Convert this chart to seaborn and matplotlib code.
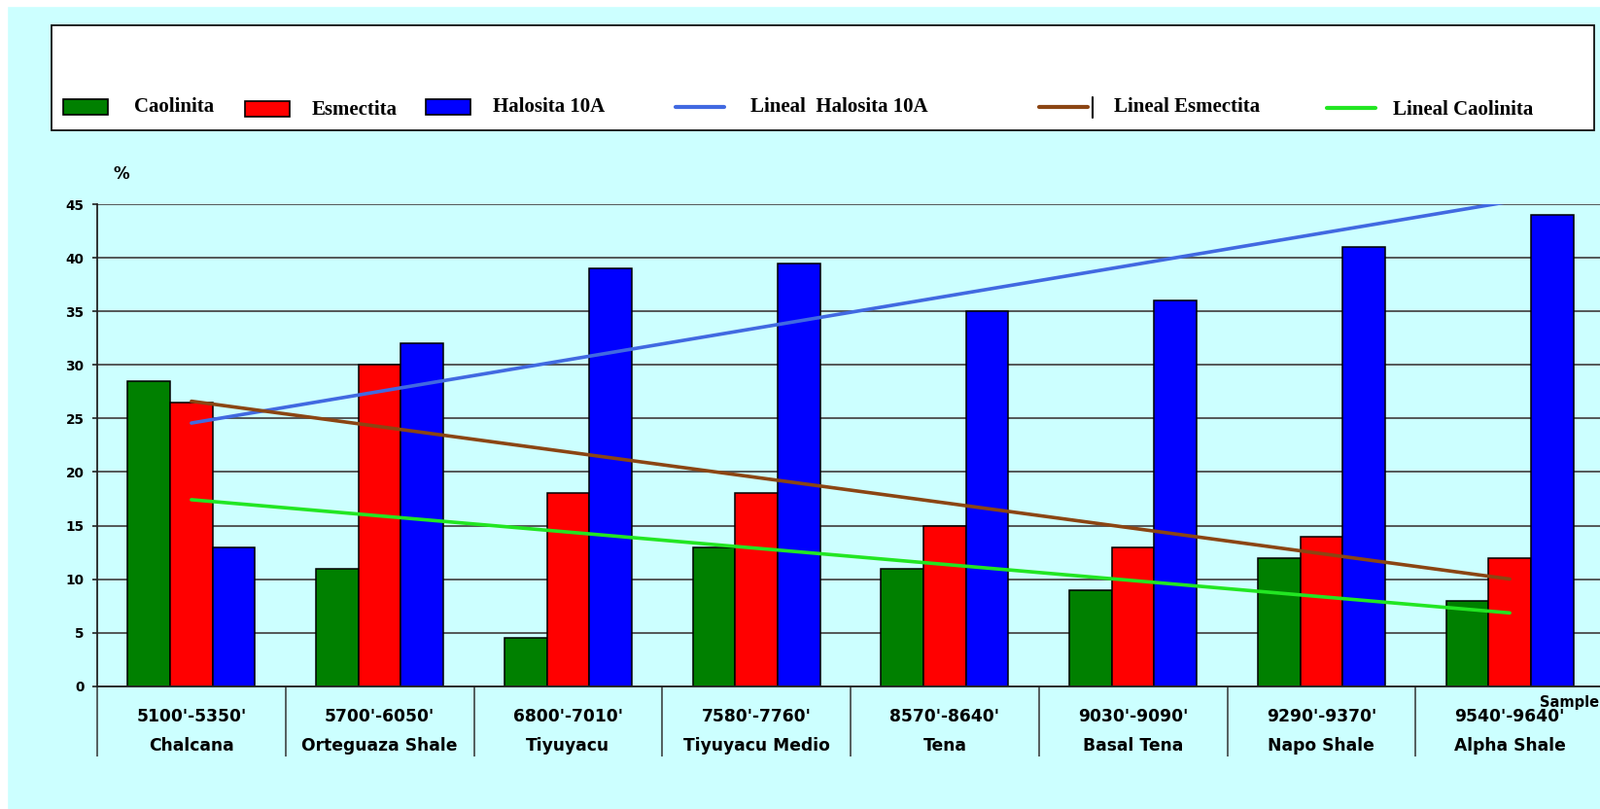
import numpy as np
import pandas as pd
import matplotlib
matplotlib.use("Agg")
import matplotlib.pyplot as plt
from matplotlib.patches import Rectangle
from matplotlib.lines import Line2D
import seaborn as sns

# data
depths = ["5100'-5350'", "5700'-6050'", "6800'-7010'", "7580'-7760'",
          "8570'-8640'", "9030'-9090'", "9290'-9370'", "9540'-9640'"]
formations = ["Chalcana", "Orteguaza Shale", "Tiyuyacu", "Tiyuyacu Medio",
              "Tena", "Basal Tena", "Napo Shale", "Alpha Shale"]
caolinita = [28.5, 11, 4.5, 13, 11, 9, 12, 8]
esmectita = [26.5, 30, 18, 18, 15, 13, 14, 12]
halosita = [13, 32, 39, 39.5, 35, 36, 41, 44]
minerals = ["Caolinita", "Esmectita", "Halosita 10A"]
y_ticks = list(range(0, 50, 5))

bar_colors = {"Caolinita": "#008000", "Esmectita": "#ff0000", "Halosita 10A": "#0000ff"}
trend_colors = {"Caolinita": "#22e622", "Esmectita": "#8b4513", "Halosita 10A": "#4169e1"}
bg = "#ccffff"

W, H = 1646, 832

def fx(x):
    return x / W

def fy(y):
    return 1 - y / H

sns.set_style("white")
plt.rcParams["font.family"] = ["DejaVu Sans"]
plt.rcParams["text.color"] = "black"
plt.rcParams["xtick.labelcolor"] = "black"
plt.rcParams["ytick.labelcolor"] = "black"

fig = plt.figure(figsize=(W / 100, H / 100), dpi=100)
fig.patch.set_facecolor(bg)
# thin white border at top/left like the scanned original
fig.add_artist(Rectangle((0, 0), fx(7), 1, transform=fig.transFigure, color="white", zorder=0))
fig.add_artist(Rectangle((0, fy(6)), 1, 6 / H, transform=fig.transFigure, color="white", zorder=0))

ax = fig.add_axes([fx(100), fy(705.5), fx(1550), 495 / H])
ax.set_facecolor(bg)

cats = [f"{d}\n{f}" for d, f in zip(depths, formations)]
df = pd.concat([
    pd.DataFrame({"cat": cats, "mineral": m, "pct": v})
    for m, v in zip(minerals, [caolinita, esmectita, halosita])
])

sns.barplot(data=df, x="cat", y="pct", hue="mineral", order=cats, hue_order=minerals,
            palette=bar_colors, saturation=1, width=0.675, edgecolor="black",
            linewidth=1.1, legend=False, ax=ax)

# linear trend lines
xpos = np.arange(len(cats))
for m, v in zip(["Halosita 10A", "Esmectita", "Caolinita"], [halosita, esmectita, caolinita]):
    sns.regplot(x=xpos, y=v, scatter=False, ci=None, truncate=True,
                color=trend_colors[m], line_kws={"lw": 2.6}, ax=ax)

ax.set_xlim(-0.5, 7.5)
ax.set_ylim(0, 45)
ax.set_yticks(y_ticks)
ax.set_xlabel("")
ax.set_ylabel("")
ax.grid(axis="y", color="#4a4a4a", lw=1.3)
ax.set_axisbelow(True)
for s in ["top", "right"]:
    ax.spines[s].set_visible(False)
for s in ["left", "bottom"]:
    ax.spines[s].set_color("#222222")
    ax.spines[s].set_linewidth(1.3)

ax.tick_params(axis="y", left=True, length=3.3, width=1.2, pad=6.5, labelsize=9.8, color="#222222")
for lbl in ax.get_yticklabels():
    lbl.set_fontweight("bold")

ax.set_xticks(xpos)
ax.set_xticklabels(cats)
ax.tick_params(axis="x", which="major", length=0, pad=16, labelsize=12.3)
for lbl in ax.get_xticklabels():
    lbl.set_fontweight("bold")
    lbl.set_linespacing(1.9)
# column separators under the axis
ax.set_xticks(np.arange(-0.5, len(cats), 1), minor=True)
ax.tick_params(axis="x", which="minor", bottom=True, length=52, width=1.1,
               color="#333333", direction="out")

fig.text(fx(125), fy(179), "%", fontsize=12, fontweight="bold", ha="center", va="center")
fig.text(fx(1645), fy(722), "Sample", fontsize=10.5, fontweight="bold", ha="right", va="center")

# legend box
fig.add_artist(Rectangle((fx(53), fy(134)), fx(1640 - 53), (134 - 26) / H,
                         transform=fig.transFigure, facecolor="white",
                         edgecolor="#111111", lw=1.3, zorder=1))
serif = dict(family=["Liberation Serif", "DejaVu Serif"], fontsize=15, fontweight="bold",
             va="center", ha="left", zorder=3)
patch_items = [("Caolinita", 65, 110, 138, 110),
               ("Esmectita", 252, 112, 321, 113),
               ("Halosita 10A", 438, 110, 507, 110)]
for name, px0, py, tx, ty in patch_items:
    fig.add_artist(Rectangle((fx(px0), fy(py + 8)), fx(46), 16 / H, transform=fig.transFigure,
                             facecolor=bar_colors[name], edgecolor="black", lw=1.2, zorder=2))
    fig.text(fx(tx), fy(ty), name, **serif)

line_items = [("Halosita 10A", "Lineal  Halosita 10A", 695, 110, 772, 110),
              ("Esmectita", "Lineal Esmectita", 1069, 110, 1146, 110),
              ("Caolinita", "Lineal Caolinita", 1365, 111, 1433, 113)]
for key, label, lx, ly, tx, ty in line_items:
    fig.add_artist(Line2D([fx(lx), fx(lx + 50)], [fy(ly), fy(ly)], transform=fig.transFigure,
                          color=trend_colors[key], lw=3, zorder=2))
    fig.text(fx(tx), fy(ty), label, **serif)
fig.add_artist(Line2D([fx(1124), fx(1124)], [fy(100), fy(121)], transform=fig.transFigure,
                      color="black", lw=1.5, zorder=2))

fig.savefig("out.png", dpi=100, facecolor=fig.get_facecolor())
